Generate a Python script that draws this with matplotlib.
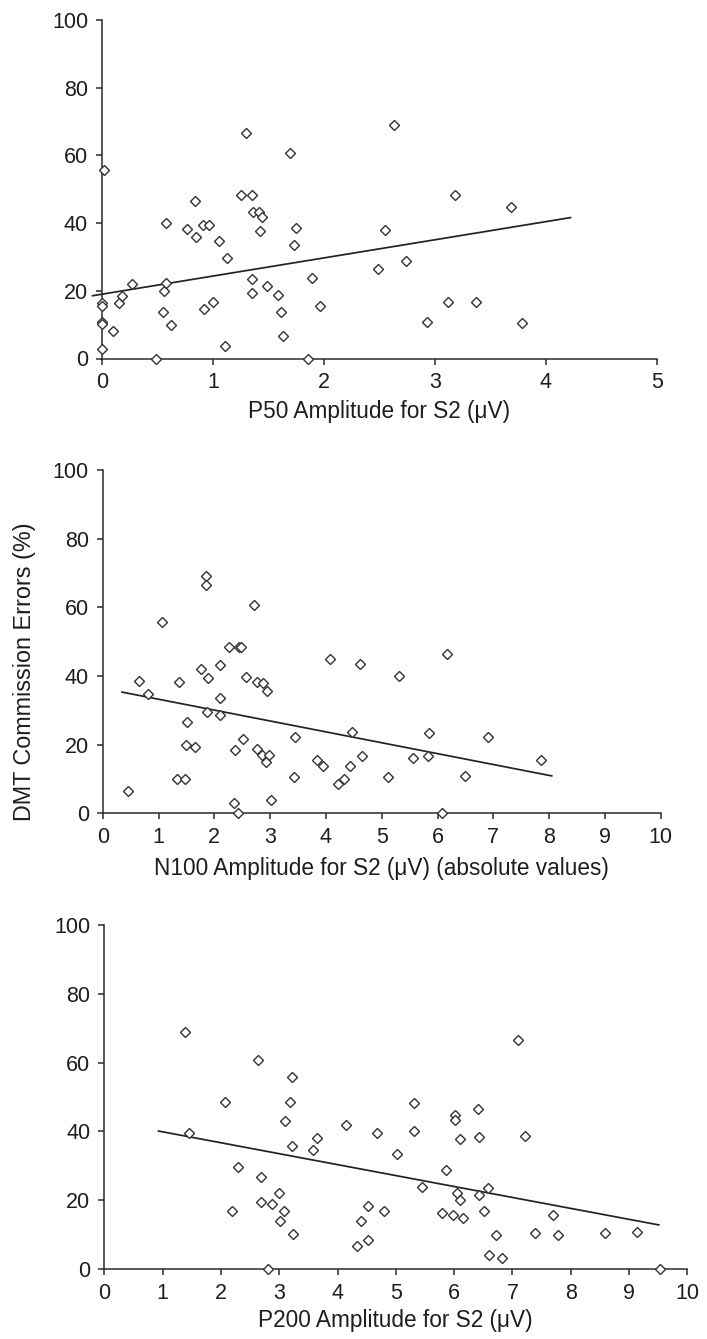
import matplotlib
matplotlib.use("Agg")
import matplotlib.pyplot as plt
import numpy as np

plt.rcParams['font.family'] = ['Liberation Sans', 'DejaVu Sans']

# ---- Data ----
p50_x = [0.02, 0, 0, 0, 0, 0, 0.10, 0.156, 0.18, 0.27, 0.49, 0.547, 0.559, 0.577, 0.577,
         0.619, 0.766, 0.838, 0.847, 0.907, 0.922, 0.967, 1.003, 1.057, 1.108, 1.126, 1.255,
         1.300, 1.348, 1.348, 1.348, 1.357, 1.414, 1.438, 1.426, 1.483, 1.583, 1.610, 1.628,
         1.691, 1.730, 1.748, 1.859, 1.889, 1.964, 2.483, 2.547, 2.628, 2.739, 2.928, 3.117,
         3.183, 3.372, 3.685, 3.781]
p50_y = [55.6, 16.5, 15.5, 10.8, 10.2, 2.9, 8.1, 16.5, 18.6, 22.1, 0, 13.7, 19.9, 22.3, 40.1,
         10.0, 38.3, 46.4, 35.8, 39.5, 14.6, 39.5, 16.8, 34.7, 3.8, 29.6, 48.4, 66.7, 48.4,
         23.4, 19.4, 43.4, 43.2, 41.7, 37.7, 21.5, 18.7, 13.7, 6.6, 60.7, 33.4, 38.6, 0, 23.7,
         15.6, 26.5, 38.0, 69.1, 28.7, 10.7, 16.7, 48.4, 16.7, 44.8, 10.5]

n100_x = [0.46, 0.657, 0.806, 1.063, 1.325, 1.361, 1.481, 1.499, 1.516, 1.648, 1.755, 1.845,
          1.845, 1.863, 1.887, 2.101, 2.101, 2.096, 2.269, 2.346, 2.376, 2.430, 2.448, 2.472,
          2.507, 2.573, 2.704, 2.758, 2.770, 2.854, 2.878, 2.919, 2.949, 2.985, 3.015, 3.427,
          3.445, 3.845, 3.952, 4.078, 4.221, 4.322, 4.430, 4.472, 4.615, 4.639, 5.108, 5.310,
          5.567, 5.824, 5.842, 6.075, 6.170, 6.498, 6.905, 7.855]
n100_y = [6.6, 38.5, 34.7, 55.6, 9.9, 38.3, 9.9, 19.9, 26.6, 19.4, 41.9, 69.2, 66.6, 29.5,
          39.5, 43.1, 33.6, 28.7, 48.5, 3.0, 18.3, 0, 48.5, 48.5, 21.6, 39.6, 60.7, 18.8, 38.2,
          16.9, 37.9, 14.8, 35.7, 16.9, 4.0, 10.5, 22.1, 15.5, 13.8, 44.9, 8.4, 9.9, 13.8, 23.6,
          43.4, 16.8, 10.5, 40.1, 16.2, 16.8, 23.4, 0, 46.3, 10.9, 22.1, 15.6]

p200_x = [1.391, 1.448, 2.075, 2.184, 2.293, 2.644, 2.684, 2.695, 2.816, 2.885, 3.000, 3.011,
          3.086, 3.103, 3.178, 3.224, 3.213, 3.230, 3.580, 3.644, 4.138, 4.333, 4.397, 4.523,
          4.523, 4.672, 4.792, 5.015, 5.312, 5.312, 5.455, 5.787, 5.861, 5.976, 6.021, 6.010,
          6.045, 6.096, 6.096, 6.158, 6.410, 6.427, 6.427, 6.518, 6.576, 6.599, 6.724, 6.822,
          7.091, 7.216, 7.382, 7.696, 7.787, 8.594, 9.13, 9.54]
p200_y = [69.0, 39.5, 48.5, 16.8, 29.7, 60.7, 26.6, 19.6, 0, 18.9, 22.2, 13.9, 16.8, 43.0,
          48.5, 55.7, 35.9, 10.1, 34.7, 38.0, 42.0, 6.8, 13.9, 18.3, 8.4, 39.5, 16.8, 33.4,
          48.4, 40.1, 23.7, 16.2, 28.8, 15.6, 44.9, 43.3, 22.2, 20.1, 37.7, 14.8, 46.4, 38.3,
          21.4, 16.9, 23.5, 4.1, 10.0, 3.1, 66.7, 38.6, 10.6, 15.6, 10.0, 10.6, 10.8, 0]

# Trend lines (intercept, slope, x range)
p50_trend = (19.0, 5.36, -0.085, 4.22)
n100_trend = (36.4, -3.17, 0.346, 8.047)
p200_trend = (43.06, -3.18, 0.93, 9.51)

xlabels = ["P50 Amplitude for S2 (\u03bcV)",
           "N100 Amplitude for S2 (\u03bcV) (absolute values)",
           "P200 Amplitude for S2 (\u03bcV)"]
xmaxes = [5, 10, 10]
ylabel = "DMT Commission Errors (%)"

# ---- Figure ----
W, H = 707, 1339
fig = plt.figure(figsize=(W / 100, H / 100), dpi=100)

# axes rectangles in pixels: (x0, x_end, y_top, y_bottom)
rects = [(102, 657, 20, 358.5), (102.7, 660.7, 470, 813.3), (104.3, 687.3, 925, 1269)]
datasets = [(p50_x, p50_y, p50_trend), (n100_x, n100_y, n100_trend), (p200_x, p200_y, p200_trend)]
label_pads = [5, 6, 4]

ink = '#2b2b2b'
txt = '#1e1e1e'
for i, ((x0, x1, yt, yb), (xs, ys, tr)) in enumerate(zip(rects, datasets)):
    ax = fig.add_axes([x0 / W, 1 - yb / H, (x1 - x0) / W, (yb - yt) / H])
    ax.set_xlim(0, xmaxes[i])
    ax.set_ylim(0, 100)
    for s in ['top', 'right']:
        ax.spines[s].set_visible(False)
    for s in ['left', 'bottom']:
        ax.spines[s].set_color(ink)
        ax.spines[s].set_linewidth(1.1)
    ax.set_xticks(np.arange(0, xmaxes[i] + 1, 1))
    ax.set_yticks(np.arange(0, 101, 20))
    ax.tick_params(axis='both', direction='out', length=4, width=1.1, color=ink,
                   labelsize=15.5, labelcolor=txt)
    ax.tick_params(axis='x', pad=6)
    ax.tick_params(axis='y', pad=6)

    b, m, xa, xb = tr
    lx = np.array([xa, xb])
    ax.plot(lx, b + m * lx, color='#222222', lw=1.25, clip_on=False, zorder=3)
    ax.plot(xs, ys, linestyle='none', marker='D', ms=5.2, mfc='white', mec='#333333',
            mew=1.0, clip_on=False, zorder=4)

    ax.set_xlabel(xlabels[i], fontsize=16.3, color=txt, labelpad=label_pads[i])

# shared y label (drawn once, beside the middle panel)
fig.text(24 / W, 1 - 821 / H, ylabel, rotation=90, rotation_mode='anchor',
         ha='left', va='center', fontsize=16.8, color=txt)

fig.savefig("out.png", dpi=100)
